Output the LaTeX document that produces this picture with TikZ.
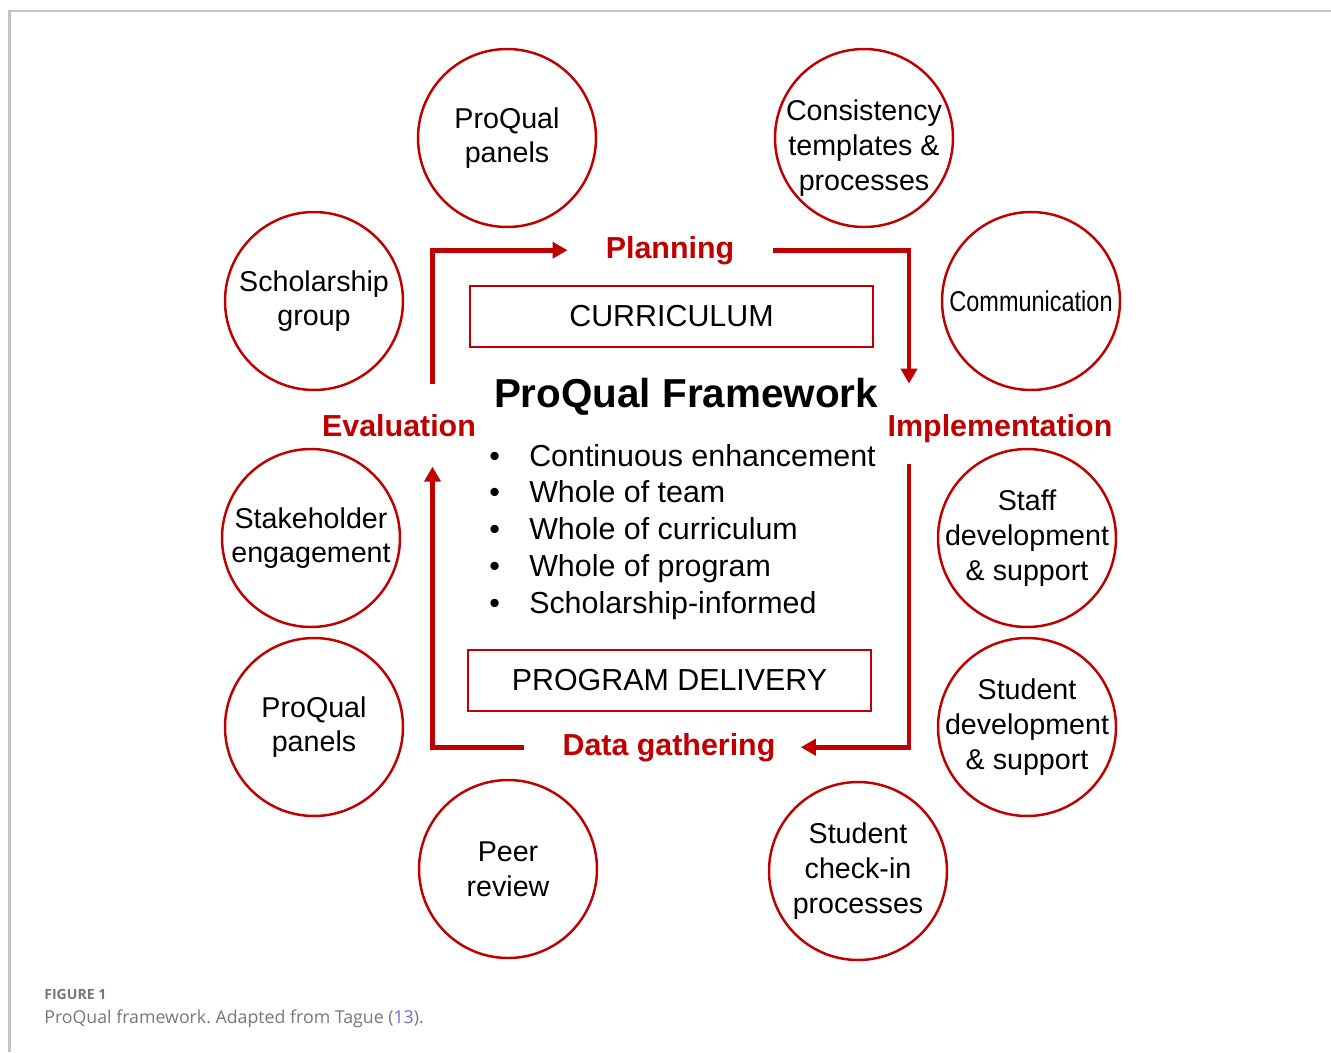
\documentclass[tikz,border=0pt]{standalone}
\usepackage{fontspec}
\setmainfont{Liberation Sans}
\newfontfamily\capfont{Open Sans}
\usepackage{graphicx}
\usetikzlibrary{arrows.meta}
\definecolor{pqred}{HTML}{C00000}
\definecolor{capgray}{HTML}{76777A}
\definecolor{linkblue}{HTML}{6A6AE6}
\definecolor{edgegray}{HTML}{C4C4C4}
\newcommand{\circfont}{\fontsize{16.3}{19.8}\selectfont}
\newcommand{\bodyfont}{\fontsize{17.3}{20.8}\selectfont}
\frenchspacing

\begin{document}
\begin{tikzpicture}[
  x=0.02cm, y=-0.02cm,
  ring/.style={draw=pqred, line width=1.4pt, circle, minimum size=3.56cm, inner sep=-1cm, align=center, font=\circfont},
  box/.style={draw=pqred, line width=1.1pt, minimum width=8.06cm, minimum height=1.22cm, font=\bodyfont},
  phase/.style={text=pqred, font=\bodyfont\bfseries, inner xsep=0.76cm, inner ysep=0.6cm, anchor=base},
  flow/.style={draw=pqred, line width=2.8pt, -{Triangle[length=3mm, width=3.2mm]}},
  pageedge/.style={draw=edgegray, line width=1.2pt}
]
\useasboundingbox (0,0) rectangle (1331,1052);
\draw[pageedge] (9.5,1052) -- (9.5,11) -- (1331,11);

% outer ring of activities
\node[ring] (panelsA) at (507,138) {ProQual\\panels};
\node[ring] (consist) at (864,138) {};
\node[font=\circfont, align=center] (consistText) at ([yshift=-0.2cm]consist) {Consistency\\templates \&\\processes};
\node[ring] (scholar) at (314,301) {Scholarship\\group};
\node[ring] (comms) at (1031,301) {\scalebox{0.82}[1]{Communication}};
\node[ring] (stake) at (311,538) {Stakeholder\\engagement};
\node[ring] (staff) at (1027,538) {Staff\\development\\\& support};
\node[ring] (panelsB) at (314,727) {ProQual\\panels};
\node[ring] (student) at (1027,727) {Student\\development\\\& support};
\node[ring] (peer) at (508,869) {Peer\\review};
\node[ring] (checkin) at (858,871) {Student\\check-in\\processes};

% centre
\node[box] (curric) at (671.5,316.5) {CURRICULUM};
\node[box] (delivery) at (669.5,680.5) {PROGRAM DELIVERY};
\node[anchor=base, font=\fontsize{23}{28}\selectfont\bfseries] (title) at (686,407) {ProQual Framework};
\foreach \point [count=\i from 0] in {Continuous enhancement, Whole of team, Whole of curriculum, Whole of program, Scholarship-informed}
  \node[anchor=base west, font=\bodyfont, inner sep=0pt] (point\i) at (489,{466+36.75*\i}) {\textbullet\hspace{0.586cm}\point};

% cycle
\node[phase] (plan) at (670,258) {Planning};
\node[phase] (impl) at (1000,436) {Implementation};
\node[phase] (data) at (669,755) {Data gathering};
\node[phase] (eval) at (399,436) {Evaluation};
\coordinate (lanew) at (432.5,0);
\coordinate (lanee) at (909,0);
\draw[flow] (eval.north -| lanew) |- (plan.west);
\draw[flow] (plan.east) -| (impl.north -| lanee);
\draw[flow, shorten <=-0.18cm, shorten >=-0.26cm] (impl.south -| lanee) |- (data.east);
\draw[flow] (data.west) -| (eval.south -| lanew);

% caption
\node[anchor=base west, inner sep=0pt, text=capgray, font=\capfont\bfseries\fontsize{8}{10}\selectfont] (fig) at (44,999) {FIGURE 1};
\node[anchor=base west, inner sep=0pt, text=capgray, font=\capfont\fontsize{10.1}{12}\selectfont] (caption) at (44,1023) {ProQual framework. Adapted from Tague (\textcolor{linkblue}{13}).};
\end{tikzpicture}
\end{document}
